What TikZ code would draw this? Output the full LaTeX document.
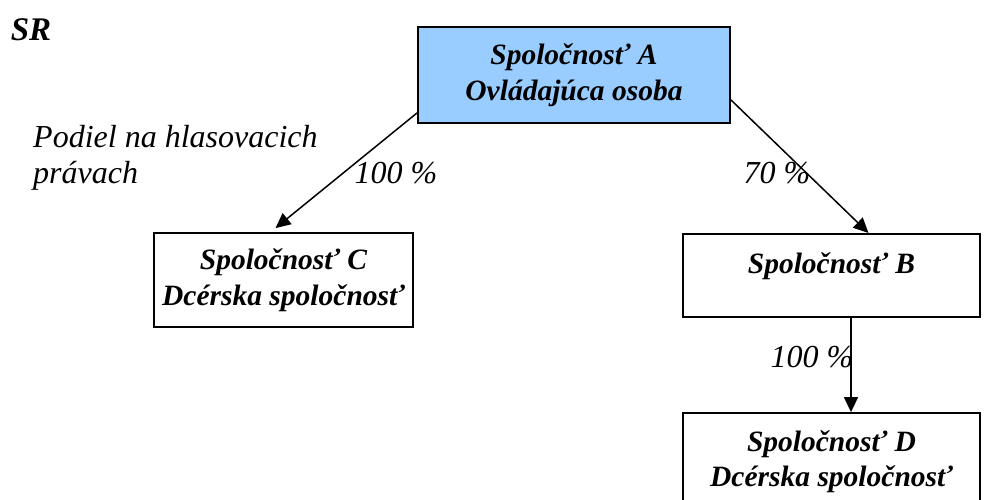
\documentclass[tikz,border=0pt]{standalone}
\usepackage{fontspec}
\setmainfont{Liberation Serif}
\usepackage{tikz}
\usetikzlibrary{arrows.meta,calc}
\definecolor{ctrlblue}{HTML}{99CCFF}
\tikzset{
  firm/.style={draw, line width=1.8pt, align=center, inner sep=0pt,
    font=\fontsize{29.5}{35.5}\selectfont\bfseries\itshape},
  share/.style={inner sep=0pt, font=\fontsize{32}{36}\selectfont\itshape},
  own/.style={-{Triangle[length=15pt,width=14pt]}, line width=1.5pt}
}

\begin{document}
\begin{tikzpicture}[x=1pt,y=1pt]
                \clip (0,0) rectangle (984,500);
                %companies, define nodes first
                \node[firm, fill=ctrlblue, minimum width=312pt, minimum height=96pt] (A) at (574,425) {Spoločnosť A\\Ovládajúca osoba};
                \node[firm, minimum width=259pt, minimum height=94pt] (C) at (283.5,220) {Spoločnosť C\\Dcérska spoločnosť};
                \node[firm, minimum width=297pt, text height=40pt, text depth=43pt, anchor=north] (B) at (831.5,267) {Spoločnosť B};
                \node[firm, minimum width=297pt, minimum height=97pt] (D) at (831.5,38.5) {Spoločnosť D\\Dcérska spoločnosť};

                %ownership arrows
                \draw[own] ($(A.south west)+(0,11)$) -- ($(C.north)+(-8,4)$);
                \draw[own] ($(A.south east)+(0,24)$) -- ($(B.north)+(37,0)$);
                \draw[own] ($(B.south)+(19.5,0)$) -- ($(D.north)+(19.5,0)$);

                %shares of the voting rights
                \node[share] (pc) at (396,327) {100 \%};
                \node[share] (pb) at (777,327) {70 \%};
                \node[share] (pd) at (812,143) {100 \%};

                %country and legend
                \node[inner sep=0pt, font=\fontsize{33}{36}\selectfont\bfseries\itshape] (SR) at (31,470) {SR};
                \node[share, align=left, anchor=north west] (votes) at (33,375) {Podiel na hlasovacich\\právach};
            \end{tikzpicture}
\end{document}
